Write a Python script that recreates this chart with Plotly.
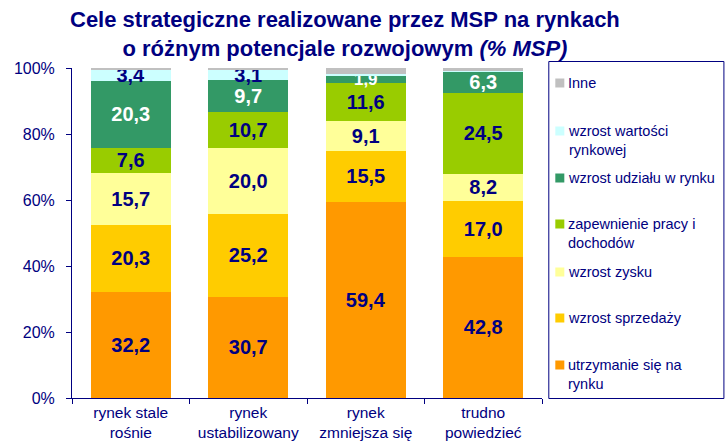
import plotly.graph_objects as go

categories = ["rynek stale<br>rośnie", "rynek<br>ustabilizowany", "rynek<br>zmniejsza się", "trudno<br>powiedzieć"]

utrzymanie = [32.2, 30.7, 59.4, 42.8]
sprzedaz = [20.3, 25.2, 15.5, 17.0]
zysk = [15.7, 20.0, 9.1, 8.2]
praca = [7.6, 10.7, 11.6, 24.5]
udzial = [20.3, 9.7, 1.9, 6.3]
wartosc = [3.4, 3.1, 0.7, 0.4]
inne = [0.5, 0.6, 1.8, 0.8]

series_names = ["utrzymanie się na<br>rynku", "wzrost sprzedaży", "wzrost zysku",
                "zapewnienie pracy i<br>dochodów", "wzrost udziału w rynku",
                "wzrost wartości<br>rynkowej", "Inne"]
series_values = [utrzymanie, sprzedaz, zysk, praca, udzial, wartosc, inne]
colors = ["#FF9900", "#FFCC00", "#FFFF99", "#99CC00", "#339966", "#CCFFFF", "#C0C0C0"]
text_colors = ["#000080", "#000080", "#000080", "#000080", "#FFFFFF", "#000080", "#000080"]
show_text = [True, True, True, True, True, True, False]

NAVY = "#000080"
FONT = "Liberation Sans, Arial"

W, H = 725, 445
PL, PR, PT, PB = 72, 541.7, 68, 398  # plot area in page pixels

fig = go.Figure()
for name, vals, col, tcol, st in zip(series_names, series_values, colors, text_colors, show_text):
    if st:
        txt = [(f"{v:.1f}".replace(".", ",") if v >= 1.0 else "") for v in vals]
    else:
        txt = ["" for v in vals]
    sizes = [17 if v < 2.5 else 20 for v in vals]
    fig.add_trace(go.Bar(
        x=categories, y=vals, name=name, marker=dict(color=col, line=dict(width=0)),
        text=txt, texttemplate="<b>%{text}</b>", textposition="inside", insidetextanchor="middle",
        constraintext="none", cliponaxis=False,
        textfont=dict(family=FONT, size=sizes, color=tcol),
        hoverinfo="skip", showlegend=False,
    ))

fig.update_layout(
    barmode="stack", bargap=0.315,
    width=W, height=H,
    margin=dict(l=PL, r=W - PR, t=PT, b=H - PB, pad=0, autoexpand=False),
    paper_bgcolor="white", plot_bgcolor="white",
    font=dict(family=FONT, color=NAVY),
    showlegend=False,
)
fig.update_yaxes(range=[0, 100], tickvals=[0, 20, 40, 60, 80, 100],
                 ticktext=["0%", "20%", "40%", "60%", "80%", "100%"],
                 showgrid=False, zeroline=False, showline=True, linecolor=NAVY, linewidth=1,
                 ticks="outside", ticklen=5, tickcolor=NAVY, ticklabelstandoff=8,
                 tickfont=dict(size=16, color=NAVY, family=FONT), automargin=False)
fig.update_xaxes(showgrid=False, showline=True, linecolor=NAVY, linewidth=1,
                 ticks="outside", tickson="boundaries", ticklen=5, tickcolor=NAVY,
                 tickfont=dict(size=15.5, color=NAVY, family=FONT), automargin=False)


def px2x(px):
    return (px - PL) / (PR - PL)


def py2y(py):
    return (PB - py) / (PB - PT)


# Title
fig.add_annotation(
    xref="paper", yref="paper", x=px2x(345), y=py2y(33.5),
    xanchor="center", yanchor="middle", showarrow=False, align="center",
    text="<b>Cele strategiczne realizowane przez MSP na rynkach<br>o różnym potencjale rozwojowym <i>(% MSP)</i></b>",
    font=dict(size=22, color=NAVY, family=FONT),
)

# Legend box
fig.add_shape(type="rect", xref="paper", yref="paper", x0=px2x(548.5), x1=px2x(723.5),
              y0=py2y(398.5), y1=py2y(61.5),
              line=dict(color=NAVY, width=1), fillcolor="white")
legend_items = [
    ("Inne", "#C0C0C0", 83),
    ("wzrost wartości<br>rynkowej", "#CCFFFF", 131),
    ("wzrost udziału w rynku", "#339966", 178),
    ("zapewnienie pracy i<br>dochodów", "#99CC00", 224),
    ("wzrost zysku", "#FFFF99", 272),
    ("wzrost sprzedaży", "#FFCC00", 318),
    ("utrzymanie się na<br>rynku", "#FF9900", 365),
]
for label, col, yc in legend_items:
    fig.add_shape(type="rect", xref="paper", yref="paper", x0=px2x(555), x1=px2x(564),
                  y0=py2y(yc + 4.5), y1=py2y(yc - 4.5), line=dict(width=0), fillcolor=col)
    fig.add_annotation(xref="paper", yref="paper", x=px2x(566), y=py2y(yc - 10),
                       xanchor="left", yanchor="top", showarrow=False, align="left",
                       text=label, font=dict(size=14.5, color=NAVY, family=FONT))

fig.write_html("out.html", config={"displayModeBar": False},
               post_script="document.body.style.margin='0';document.body.style.overflow='hidden';")
